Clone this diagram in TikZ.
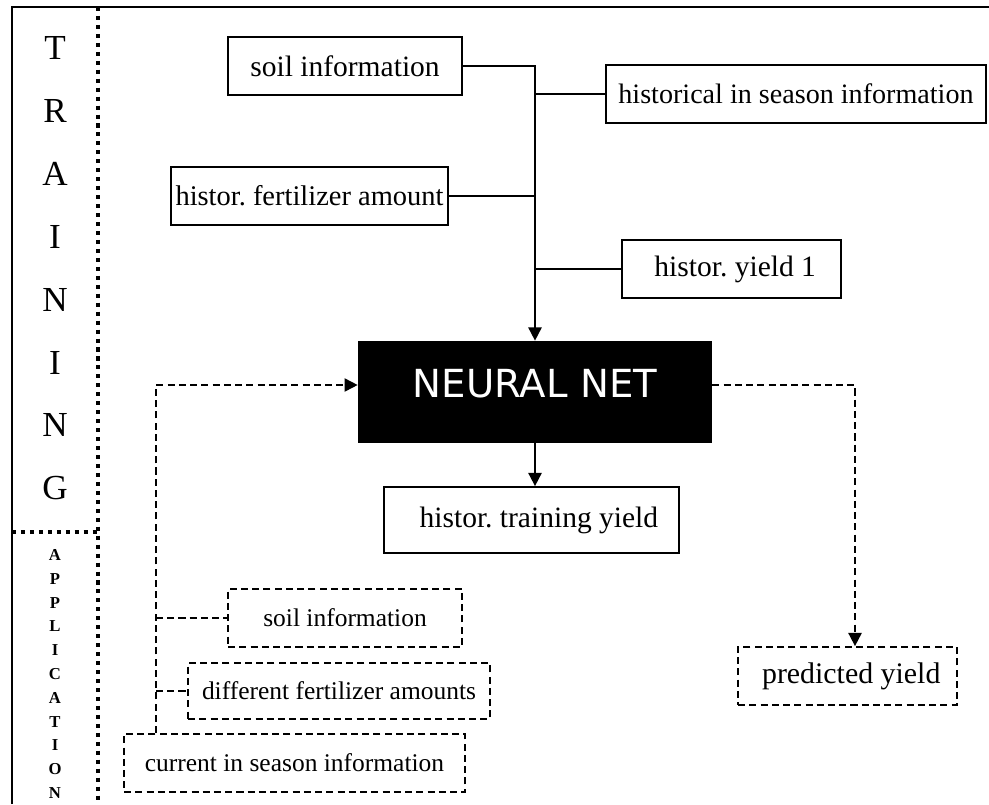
\documentclass[tikz,border=0pt]{standalone}
\usepackage{fontspec}
\setmainfont{Liberation Serif}
\newfontfamily\netfont{DejaVu Sans}
\usetikzlibrary{arrows.meta}
\frenchspacing
\tikzset{
  inbox/.style   = {rectangle, draw, line width=1pt, inner sep=2pt,
                    align=center, font=\fontsize{16.8}{18}\selectfont},
  appbox/.style  = {rectangle, draw, line width=1pt, inner sep=2pt,
                    dash pattern=on 4pt off 2.4pt, align=center,
                    font=\fontsize{14.5}{16}\selectfont},
  netbox/.style  = {rectangle, fill=black, text=white,
                    font=\netfont\fontsize{22}{24}\selectfont},
  feed/.style    = {line width=1pt},
  appfeed/.style = {line width=1pt, dash pattern=on 4pt off 2.4pt},
  tip/.style     = {-{Triangle[length=7.5pt, width=7.5pt]}},
  frame/.style   = {line width=1.7pt},
  divider/.style = {line width=2.3pt, dash pattern=on 2.3pt off 2.8pt},
  phase/.style   = {font=\fontsize{20}{22}\selectfont},
  phaseapp/.style = {font=\bfseries\fontsize{9.5}{10}\selectfont}
}
\begin{document}
\begin{tikzpicture}[x=0.02cm, y=-0.02cm]
  \useasboundingbox (0,0) rectangle (989,804);

  % frame and phase dividers
  \draw[frame] (12,804) -- (12,7) -- (989,7);
  \draw[divider] (98,7) -- (98,804);
  \draw[divider] (12,532) -- (98,532);

  % phase letters
  \foreach \ch [count=\i from 0] in {T,R,A,I,N,I,N,G}
    \node[phase] (tr\i) at (55,48+62.9*\i) {\ch};
  \foreach \ch [count=\i from 0] in {A,P,P,L,I,C,A,T,I,O,N}
    \node[phaseapp] (ap\i) at (55,555+23.8*\i) {\ch};

  % training inputs
  \node (soilT) [inbox, minimum width=4.68cm, minimum height=1.16cm]
    at (345,66) {soil information};
  \node (histSeason) [inbox, minimum width=7.6cm, minimum height=1.16cm,
                      font=\fontsize{16}{18}\selectfont]
    at (796,94) {historical in season information};
  \node (histFert) [inbox, minimum width=5.54cm, minimum height=1.16cm,
                    inner xsep=1pt, font=\fontsize{16.2}{18}\selectfont]
    at (309.5,196) {histor. fertilizer amount};
  \node (histYield) [inbox, minimum width=4.38cm, minimum height=1.16cm]
    at (731.5,269) {\ histor. yield 1};

  % net and outputs
  \node (net) [netbox, minimum width=7.08cm, minimum height=2.04cm,
               text height=0.56cm, text depth=0.36cm]
    at (535,392) {NEURAL NET};
  \node (trainYield) [inbox, minimum width=5.9cm, minimum height=1.32cm]
    at (531.5,520) {\ \ histor. training yield};
  \node (predYield) [appbox, minimum width=4.38cm, minimum height=1.16cm,
                     font=\fontsize{17}{18}\selectfont]
    at (847.5,676) {\ predicted yield};

  % application inputs
  \node (soilA) [appbox, minimum width=4.68cm, minimum height=1.16cm]
    at (345,618) {soil information};
  \node (fertA) [appbox, minimum width=6.04cm, minimum height=1.12cm]
    at (339,691) {different fertilizer amounts};
  \node (currA) [appbox, minimum width=6.82cm, minimum height=1.16cm]
    at (294.5,763) {current in season information};

  \coordinate (bus)  at (156,385);
  \coordinate (drop) at (855,385);

  % training connectors
  \draw[feed, tip] (soilT.east) -| (net.north);
  \draw[feed] (histSeason.west) -- (histSeason.west -| net.north);
  \draw[feed] (histFert.east) -- (histFert.east -| net.north);
  \draw[feed] (histYield.west) -- (histYield.west -| net.north);
  \draw[feed, tip] (net.south) -- (net.south |- trainYield.north);

  % application connectors
  \draw[appfeed, tip] (bus |- currA.north) -- (bus) -- (bus -| net.west);
  \draw[appfeed] (bus |- soilA.west) -- (soilA.west);
  \draw[appfeed] (bus |- fertA.west) -- (fertA.west);
  \draw[appfeed, tip] (bus -| net.east) -- (drop) -- (drop |- predYield.north);
\end{tikzpicture}
\end{document}
